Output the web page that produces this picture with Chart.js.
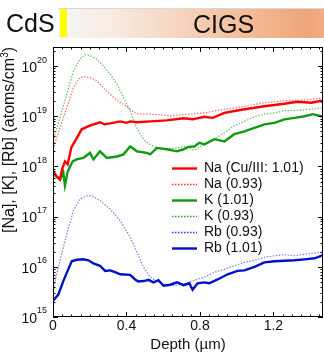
<!DOCTYPE html>
<html>
<head>
<meta charset="utf-8">
<script src="https://cdn.jsdelivr.net/npm/chart.js@4.4.1/dist/chart.umd.min.js"></script>
<style>
  html, body { margin: 0; padding: 0; background: #fff; }
  #wrap { position: relative; width: 324px; height: 353px; overflow: hidden; font-family: "Liberation Sans", Arial, sans-serif; }
  #bar { position: absolute; left: 58px; top: 8px; width: 266px; height: 29px;
         border-top: 1px solid #d8d8d8;
         background: linear-gradient(to right, #f6f6f6 0%, #f8eae0 22%, #f5d2bb 48%, #f2b892 75%, #efa57a 94%, #f1ad86 100%); }
  #cds-mark { position: absolute; left: 60px; top: 9px; width: 7px; height: 28px; background: #ffff00; }
  #cds { position: absolute; left: 6px; top: 9px; font-size: 25px; line-height: 29px; color: #111; }
  #cigs { position: absolute; left: 193px; top: 10px; font-size: 25px; line-height: 29px; color: #111; }
  canvas { position: absolute; left: 0; top: 0; }
</style>
</head>
<body>
<div id="wrap">
  <canvas id="c" width="324" height="353"></canvas>
  <div id="bar"></div>
  <div id="cds-mark"></div>
  <div id="cds">CdS</div>
  <div id="cigs">CIGS</div>
</div>
<script>
// ---- data (depth in µm, concentration in atoms/cm^3) ----
const depthNaSolid = [0, 0.02, 0.038, 0.05, 0.065, 0.08, 0.1, 0.12, 0.156, 0.2, 0.256, 0.28, 0.311, 0.366, 0.4, 0.42, 0.457, 0.53, 0.62, 0.711, 0.76, 0.824, 0.87, 0.933, 1.042, 1.151, 1.26, 1.331, 1.406, 1.46, 1.47];
const naSolid = [8.3e17, 6.3e17, 5.5e17, 8.9e17, 1.26e18, 1.1e18, 2.4e18, 3.2e18, 5.5e18, 6.5e18, 7.6e18, 6.9e18, 7.2e18, 7.9e18, 7.4e18, 7.9e18, 7.6e18, 7.9e18, 8.3e18, 9.1e18, 8.7e18, 9.8e18, 9.3e18, 1.17e19, 1.38e19, 1.58e19, 1.78e19, 1.95e19, 1.86e19, 2.04e19, 1.9e19];

const depthNaDotted = [0, 0.038, 0.075, 0.111, 0.138, 0.165, 0.202, 0.238, 0.274, 0.311, 0.348, 0.384, 0.42, 0.447, 0.475, 0.529, 0.584, 0.638, 0.693, 0.738, 0.824, 0.933, 1.042, 1.151, 1.26, 1.369, 1.46, 1.47];
const naDotted = [2.2e18, 5.9e18, 1.48e19, 3.7e19, 5.5e19, 6.2e19, 5.9e19, 5.1e19, 3.7e19, 2.75e19, 2.1e19, 1.74e19, 1.38e19, 1.17e19, 1.1e19, 1.1e19, 1.07e19, 1.02e19, 1.07e19, 1.1e19, 1.17e19, 1.38e19, 1.58e19, 1.86e19, 2.04e19, 2.1e19, 2.3e19, 2.3e19];

const depthKSolid = [0, 0.02, 0.038, 0.056, 0.065, 0.08, 0.093, 0.107, 0.129, 0.165, 0.202, 0.22, 0.256, 0.293, 0.348, 0.384, 0.42, 0.457, 0.511, 0.529, 0.566, 0.62, 0.675, 0.711, 0.738, 0.769, 0.797, 0.824, 0.878, 0.933, 0.987, 1.042, 1.097, 1.151, 1.206, 1.26, 1.315, 1.369, 1.415, 1.46, 1.47];
const kSolid = [7.1e17, 6.3e17, 5.5e17, 7.6e17, 4.2e17, 7.9e17, 1.0e18, 1.26e18, 1.38e18, 1.48e18, 1.86e18, 1.38e18, 2.0e18, 1.48e18, 1.58e18, 1.74e18, 2.5e18, 2.0e18, 1.86e18, 1.74e18, 2.34e18, 2.2e18, 2.0e18, 2.2e18, 2.45e18, 2.5e18, 2.95e18, 2.75e18, 3.5e18, 3.16e18, 4.4e18, 5.0e18, 5.9e18, 6.9e18, 7.4e18, 8.7e18, 9.3e18, 1.0e19, 1.1e19, 1.0e19, 1.0e19];

const depthKDotted = [0, 0.038, 0.075, 0.111, 0.147, 0.175, 0.202, 0.238, 0.274, 0.311, 0.348, 0.384, 0.42, 0.447, 0.475, 0.502, 0.529, 0.566, 0.602, 0.66, 0.715, 0.769, 0.824, 0.878, 0.933, 0.987, 1.042, 1.097, 1.151, 1.206, 1.26, 1.331, 1.406, 1.46, 1.47];
const kDotted = [3.2e18, 9.3e18, 2.75e19, 7.9e19, 1.38e20, 1.7e20, 1.62e20, 1.38e20, 1.0e20, 6.9e19, 4.4e19, 2.34e19, 1.29e19, 6.9e18, 4.4e18, 3.2e18, 2.75e18, 2.34e18, 2.2e18, 2.3e18, 2.5e18, 2.1e18, 2.75e18, 3.5e18, 4.7e18, 6.5e18, 7.9e18, 9.8e18, 1.1e19, 1.17e19, 1.29e19, 1.32e19, 1.38e19, 1.48e19, 1.5e19];

const depthRbDotted = [0, 0.038, 0.075, 0.111, 0.147, 0.184, 0.211, 0.256, 0.311, 0.366, 0.42, 0.457, 0.493, 0.529, 0.566, 0.602, 0.656, 0.711, 0.769, 0.824, 0.878, 0.933, 0.987, 1.042, 1.097, 1.151, 1.206, 1.26, 1.315, 1.369, 1.46, 1.47];
const rbDotted = [3.5e15, 1.32e16, 4.5e16, 1.32e17, 2.24e17, 2.6e17, 2.6e17, 2.1e17, 1.41e17, 8.3e16, 3.9e16, 1.95e16, 9.8e15, 6.2e15, 5.2e15, 4.5e15, 4.2e15, 4.5e15, 5.4e15, 6.2e15, 7.8e15, 8.9e15, 1.05e16, 1.23e16, 1.35e16, 1.55e16, 1.66e16, 1.74e16, 1.66e16, 1.78e16, 1.95e16, 2.0e16];

const depthRbSolid = [0, 0.029, 0.056, 0.083, 0.102, 0.129, 0.165, 0.193, 0.22, 0.256, 0.284, 0.311, 0.338, 0.366, 0.42, 0.447, 0.465, 0.493, 0.52, 0.547, 0.574, 0.602, 0.638, 0.675, 0.711, 0.742, 0.76, 0.787, 0.824, 0.851, 0.896, 0.951, 1.005, 1.042, 1.097, 1.151, 1.206, 1.26, 1.315, 1.369, 1.424, 1.46, 1.47];
const rbSolid = [2.1e15, 2.8e15, 5.2e15, 8.9e15, 1.29e16, 1.38e16, 1.41e16, 1.35e16, 1.17e16, 1.05e16, 8.3e15, 8.5e15, 7.8e15, 7.1e15, 6.9e15, 5.6e15, 5.1e15, 5.2e15, 5.5e15, 4.9e15, 5.4e15, 4.2e15, 4.4e15, 4.9e15, 4.3e15, 4.7e15, 3.5e15, 4.7e15, 4.9e15, 4.7e15, 5.6e15, 7.1e15, 8.3e15, 8.5e15, 1.0e16, 1.23e16, 1.29e16, 1.32e16, 1.35e16, 1.41e16, 1.48e16, 1.66e16, 1.7e16];

const seriesLabels = ['Na (Cu/III: 1.01)', 'Na (0.93)', 'K (1.01)', 'K (0.93)', 'Rb (0.93)', 'Rb (1.01)'];
const xTickValues = [0, 0.4, 0.8, 1.2];
const xTickLabels = ['0', '0.4', '0.8', '1.2'];
const yTickExponents = [15, 16, 17, 18, 19, 20];
const xTitle = 'Depth (µm)';
const yTitle = '[Na], [K], [Rb] (atoms/cm';
const yTitleSup = '3';
// ---------------------------------------------------------

function pts(xs, ys) { return xs.map((d, i) => ({ x: d, y: ys[i] })); }

const FONT = '"Liberation Sans", Arial, sans-serif';

const styles = [
  { color: '#ff0000', width: 2.4, dash: [] },
  { color: '#ff7070', width: 1.2, dash: [1.5, 1.5] },
  { color: '#109a10', width: 2.4, dash: [] },
  { color: '#66c066', width: 1.2, dash: [1.5, 1.5] },
  { color: '#7c7cee', width: 1.2, dash: [1.5, 1.5] },
  { color: '#0010cc', width: 2.4, dash: [] }
];
const legendStyles = [
  { color: '#ff0000', width: 2.4, dash: [] },
  { color: '#ff2a2a', width: 1.4, dash: [1.5, 1.5] },
  { color: '#109a10', width: 2.4, dash: [] },
  { color: '#22a822', width: 1.4, dash: [1.5, 1.5] },
  { color: '#2a3ae0', width: 1.4, dash: [1.5, 1.5] },
  { color: '#0010cc', width: 2.4, dash: [] }
];

const seriesData = [
  pts(depthNaSolid, naSolid),
  pts(depthNaDotted, naDotted),
  pts(depthKSolid, kSolid),
  pts(depthKDotted, kDotted),
  pts(depthRbDotted, rbDotted),
  pts(depthRbSolid, rbSolid)
];

const datasets = seriesData.map((d, i) => ({
  label: seriesLabels[i],
  data: d,
  borderColor: styles[i].color,
  backgroundColor: styles[i].color,
  borderWidth: styles[i].width,
  borderDash: styles[i].dash,
  pointRadius: 0,
  tension: 0,
  fill: false,
  order: styles[i].dash.length ? 2 : 1
}));

const decor = {
  id: 'decor',
  afterDraw(chart) {
    const { ctx, chartArea: a, scales: { x, y } } = chart;
    ctx.save();
    ctx.strokeStyle = '#000';
    ctx.lineWidth = 1;
    ctx.setLineDash([]);
    // frame
    ctx.strokeRect(a.left + 0.5, a.top + 0.5, a.right - a.left - 1, a.bottom - a.top - 1);
    const seg = (x1, y1, x2, y2) => { ctx.beginPath(); ctx.moveTo(x1, y1); ctx.lineTo(x2, y2); ctx.stroke(); };
    // x ticks (inward, top and bottom)
    for (let i = 0; i * 0.05 <= x.max + 1e-9; i++) {
      const v = i * 0.05;
      const px = Math.round(x.getPixelForValue(v)) + 0.5;
      const L = (i % 8 === 0) ? 5 : 2.5;
      seg(px, a.bottom, px, a.bottom - L);
      seg(px, a.top, px, a.top + L);
    }
    // y ticks (log, inward, left and right)
    for (let e = 15; e <= 20; e++) {
      for (let m = 1; m <= 9; m++) {
        const v = m * Math.pow(10, e);
        if (v > y.max) break;
        const py = Math.round(y.getPixelForValue(v)) + 0.5;
        const L = m === 1 ? 5 : 2.5;
        seg(a.left, py, a.left + L, py);
        seg(a.right, py, a.right - L, py);
      }
    }
    ctx.fillStyle = '#111';
    // x tick labels
    ctx.font = '14px ' + FONT;
    ctx.textAlign = 'center';
    ctx.textBaseline = 'middle';
    xTickValues.forEach((v, i) => {
      ctx.fillText(xTickLabels[i], x.getPixelForValue(v), a.bottom + 9);
    });
    // y tick labels 10^n
    yTickExponents.forEach(e => {
      const py = y.getPixelForValue(Math.pow(10, e));
      ctx.font = '14px ' + FONT;
      ctx.textAlign = 'right';
      ctx.textBaseline = 'middle';
      ctx.fillText('10', a.left - 16, py + 2);
      ctx.font = '9px ' + FONT;
      ctx.textAlign = 'left';
      ctx.fillText(String(e), a.left - 16, py - 6);
    });
    // x title
    ctx.font = '15px ' + FONT;
    ctx.textAlign = 'center';
    ctx.textBaseline = 'middle';
    ctx.fillText(xTitle, (a.left + a.right) / 2, a.bottom + 28);
    // y title (rotated)
    ctx.save();
    ctx.translate(10, 140);
    ctx.rotate(-Math.PI / 2);
    ctx.font = '16px ' + FONT;
    const w1 = ctx.measureText(yTitle).width;
    ctx.font = '10px ' + FONT;
    const w2 = ctx.measureText(yTitleSup).width;
    ctx.font = '16px ' + FONT;
    const w3 = ctx.measureText(')').width;
    let sx = -(w1 + w2 + w3) / 2;
    ctx.textAlign = 'left';
    ctx.textBaseline = 'middle';
    ctx.fillText(yTitle, sx, 0);
    ctx.font = '10px ' + FONT;
    ctx.fillText(yTitleSup, sx + w1, -5);
    ctx.font = '16px ' + FONT;
    ctx.fillText(')', sx + w1 + w2, 0);
    ctx.restore();
    // legend
    const lx0 = 172, lx1 = 197, tx = 204, ly0 = 168, dy = 16;
    chart.data.datasets.forEach((ds, i) => {
      const yy = ly0 + i * dy + 0.5;
      const st = legendStyles[i];
      ctx.strokeStyle = st.color;
      ctx.lineWidth = st.width;
      ctx.setLineDash(st.dash);
      seg(lx0, yy, lx1, yy);
      ctx.setLineDash([]);
      ctx.fillStyle = '#111';
      ctx.font = '14px ' + FONT;
      ctx.textAlign = 'left';
      ctx.textBaseline = 'middle';
      ctx.fillText(ds.label, tx, yy);
    });
    ctx.restore();
  }
};

new Chart(document.getElementById('c'), {
  type: 'line',
  data: { datasets },
  options: {
    responsive: false,
    animation: false,
    parsing: true,
    layout: { padding: { left: 53, top: 47, right: 1, bottom: 36 } },
    plugins: { legend: { display: false }, tooltip: { enabled: false } },
    scales: {
      x: { type: 'linear', min: 0, max: 1.47, display: false },
      y: { type: 'logarithmic', min: 1e15, max: 2.4e20, display: false }
    }
  },
  plugins: [decor]
});
</script>
</body>
</html>
